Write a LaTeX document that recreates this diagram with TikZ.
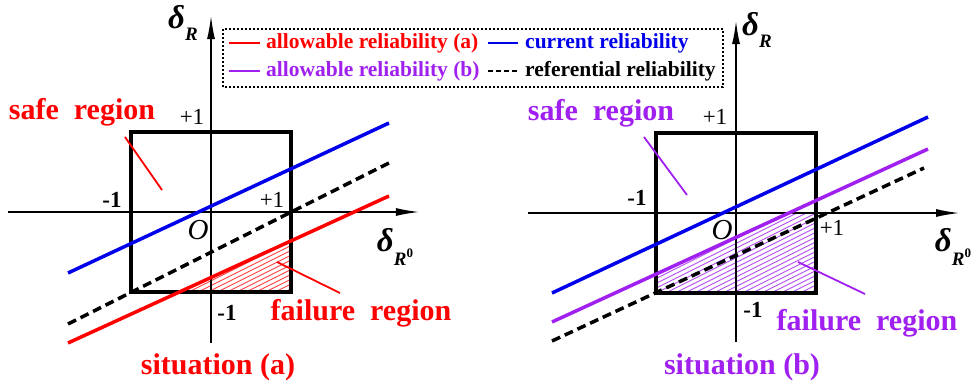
\documentclass[tikz,border=0pt]{standalone}
\usepackage{fontspec}
\setmainfont{Liberation Serif}
\usetikzlibrary{arrows.meta}

\definecolor{redline}{RGB}{255,0,0}
\definecolor{blueline}{RGB}{0,0,235}
\definecolor{purpleline}{RGB}{160,32,240}

\newcommand{\dR}{\textit{δ}\raisebox{-0.35em}{\fontsize{19}{19}\selectfont\textit{R}}}
\newcommand{\dRo}{\textit{δ}\raisebox{-0.45em}{\fontsize{19}{19}\selectfont\textit{R}\raisebox{0.45em}{\fontsize{13}{13}\selectfont 0}}}

\tikzset{
    axis/.style={line width=1.8pt, -{Latex[length=24pt,width=8pt]}},
    frame/.style={line width=3.5pt},
    curve/.style={line width=3.5pt},
    refline/.style={line width=3.5pt, dash pattern=on 9pt off 5pt},
    pointer/.style={line width=1.8pt},
    hatch/.style={line width=0.9pt},
    region/.style={font=\fontsize{30}{30}\selectfont\bfseries, inner sep=0pt},
    tick/.style={font=\fontsize{23}{23}\selectfont, inner sep=0pt},
    negtick/.style={font=\fontsize{23}{23}\selectfont\bfseries, inner sep=0pt},
    origin/.style={font=\fontsize{29}{29}\selectfont\itshape, inner sep=0pt},
    axlabel/.style={font=\fontsize{33}{33}\selectfont\bfseries, inner sep=0pt},
    legend/.style={font=\fontsize{21.5}{22}\selectfont\bfseries, anchor=west, inner sep=0pt},
}

\begin{document}
\begin{tikzpicture}
    \useasboundingbox (0,0) rectangle (974pt,389pt);

    % legend
    \draw[line width=1.6pt, dash pattern=on 1.6pt off 2.4pt] (223pt,302pt) rectangle (723pt,360pt);
    \coordinate (lgA1) at (229pt,346pt); \coordinate (lgA2) at (260pt,346pt);
    \coordinate (lgB1) at (229pt,318pt); \coordinate (lgB2) at (260pt,318pt);
    \coordinate (lgC1) at (488pt,346pt); \coordinate (lgC2) at (518pt,346pt);
    \coordinate (lgD1) at (488pt,318pt); \coordinate (lgD2) at (518pt,318pt);
    \draw[redline, line width=2.5pt] (lgA1) -- (lgA2);
    \draw[purpleline, line width=2.5pt] (lgB1) -- (lgB2);
    \draw[blueline, line width=2.5pt] (lgC1) -- (lgC2);
    \draw[line width=2.5pt, dash pattern=on 5pt off 3pt] (lgD1) -- (lgD2);
    \node[legend, text=redline] (lgtA) at (266pt,346pt) {allowable reliability (a)};
    \node[legend, text=purpleline] (lgtB) at (266pt,318pt) {allowable reliability (b)};
    \node[legend, text=blueline] (lgtC) at (525pt,346pt) {current reliability};
    \node[legend] (lgtD) at (525pt,318pt) {referential reliability};

    % situation (a)
    \begin{scope}[shift={(211pt,177pt)}, x=80pt, y=80pt]
        \begin{scope}
            \clip (-1,-1) rectangle (1,1);
            \clip (-1.7875,-1.6375) -- (2.225,0.2) -- (2.225,-2) -- (-1.7875,-2) -- cycle;
            \foreach \c in {-2.0,-1.94,...,0.5}
                \draw[hatch, redline!75] (-1.2,\c-0.6) -- (1.2,\c+0.6);
        \end{scope}
        \coordinate (axA-w) at (-2.54,0);  \coordinate (axA-e) at (2.61,0);
        \coordinate (axA-s) at (0,-1.64);  \coordinate (axA-n) at (0,2.46);
        \draw[axis] (axA-w) -- (axA-e);
        \draw[axis] (axA-s) -- (axA-n);
        \draw[frame] (-1,-1) rectangle (1,1);

        \coordinate (curA1) at (-1.7875,-0.7625); \coordinate (curA2) at (2.225,1.1125);
        \coordinate (refA1) at (-1.7875,-1.4);    \coordinate (refA2) at (2.225,0.6125);
        \coordinate (allA1) at (-1.7875,-1.6375); \coordinate (allA2) at (2.225,0.2);
        \draw[curve, blueline] (curA1) -- (curA2);
        \draw[refline] (refA1) -- (refA2);
        \draw[curve, redline] (allA1) -- (allA2);

        \node[region, text=redline] (safeA) at (-1.6125,1.25) {safe\hspace{0.5em}region};
        \node[region, text=redline] (failA) at (1.875,-1.2625) {failure\hspace{0.5em}region};
        \node[region, text=redline] (sitA) at (0.0875,-1.9375) {situation (a)};
        \coordinate (safeA-from) at (-1.075,0.9375); \coordinate (safeA-to) at (-0.6125,0.275);
        \coordinate (failA-from) at (0.825,-0.625);  \coordinate (failA-to) at (1.6125,-1.0125);
        \draw[pointer, redline] (safeA-from) -- (safeA-to);
        \draw[pointer, redline] (failA-from) -- (failA-to);

        \node[tick] (tA-n) at (-0.2375,1.1875) {+1};
        \node[negtick] (tA-w) at (-1.2375,0.15) {-1};
        \node[tick] (tA-e) at (0.7625,0.15) {+1};
        \node[negtick] (tA-s) at (0.2,-1.2625) {-1};
        \node[origin] (oA) at (-0.1625,-0.225) {O};
        \node[axlabel] (dA-n) at (-0.35,2.3625) {\dR};
        \node[axlabel] (dA-e) at (2.3,-0.4375) {\dRo};
    \end{scope}

    % situation (b)
    \begin{scope}[shift={(736pt,176pt)}, x=80pt, y=80pt]
        \begin{scope}
            \clip (-1,-1) rectangle (1,0);
            \clip (-2.3,-1.3625) -- (2.4,0.8) -- (2.4,-2) -- (-2.3,-2) -- cycle;
            \foreach \c in {-2.0,-1.94,...,0.5}
                \draw[hatch, purpleline!80] (-1.2,\c-0.6) -- (1.2,\c+0.6);
        \end{scope}
        \coordinate (axB-w) at (-2.6,0);    \coordinate (axB-e) at (2.8,0);
        \coordinate (axB-s) at (0,-1.6125); \coordinate (axB-n) at (0,2.41);
        \draw[axis] (axB-w) -- (axB-e);
        \draw[axis] (axB-s) -- (axB-n);
        \draw[frame] (-1,-1) rectangle (1,1);

        \coordinate (curB1) at (-2.3,-1.0);    \coordinate (curB2) at (2.4,1.2);
        \coordinate (allB1) at (-2.3,-1.3625); \coordinate (allB2) at (2.4,0.8);
        \coordinate (refB1) at (-2.3,-1.6);    \coordinate (refB2) at (2.35,0.5625);
        \draw[curve, blueline] (curB1) -- (curB2);
        \draw[curve, purpleline] (allB1) -- (allB2);
        \draw[refline] (refB1) -- (refB2);

        \node[region, text=purpleline] (safeB) at (-1.6875,1.25) {safe\hspace{0.5em}region};
        \node[region, text=purpleline] (failB) at (1.6375,-1.375) {failure\hspace{0.5em}region};
        \node[region, text=purpleline] (sitB) at (0.075,-1.925) {situation (b)};
        \coordinate (safeB-from) at (-1.15,0.95);   \coordinate (safeB-to) at (-0.6125,0.225);
        \coordinate (failB-from) at (0.775,-0.6125); \coordinate (failB-to) at (1.6125,-1.0125);
        \draw[pointer, purpleline] (safeB-from) -- (safeB-to);
        \draw[pointer, purpleline] (failB-from) -- (failB-to);

        \node[tick] (tB-n) at (-0.2625,1.2) {+1};
        \node[negtick] (tB-w) at (-1.2375,0.1875) {-1};
        \node[tick] (tB-e) at (1.2,-0.1875) {+1};
        \node[negtick] (tB-s) at (0.2125,-1.2125) {-1};
        \node[origin] (oB) at (-0.175,-0.2125) {O};
        \node[axlabel] (dB-n) at (0.2625,2.29) {\dR};
        \node[axlabel] (dB-e) at (2.7125,-0.425) {\dRo};
    \end{scope}
\end{tikzpicture}
\end{document}
